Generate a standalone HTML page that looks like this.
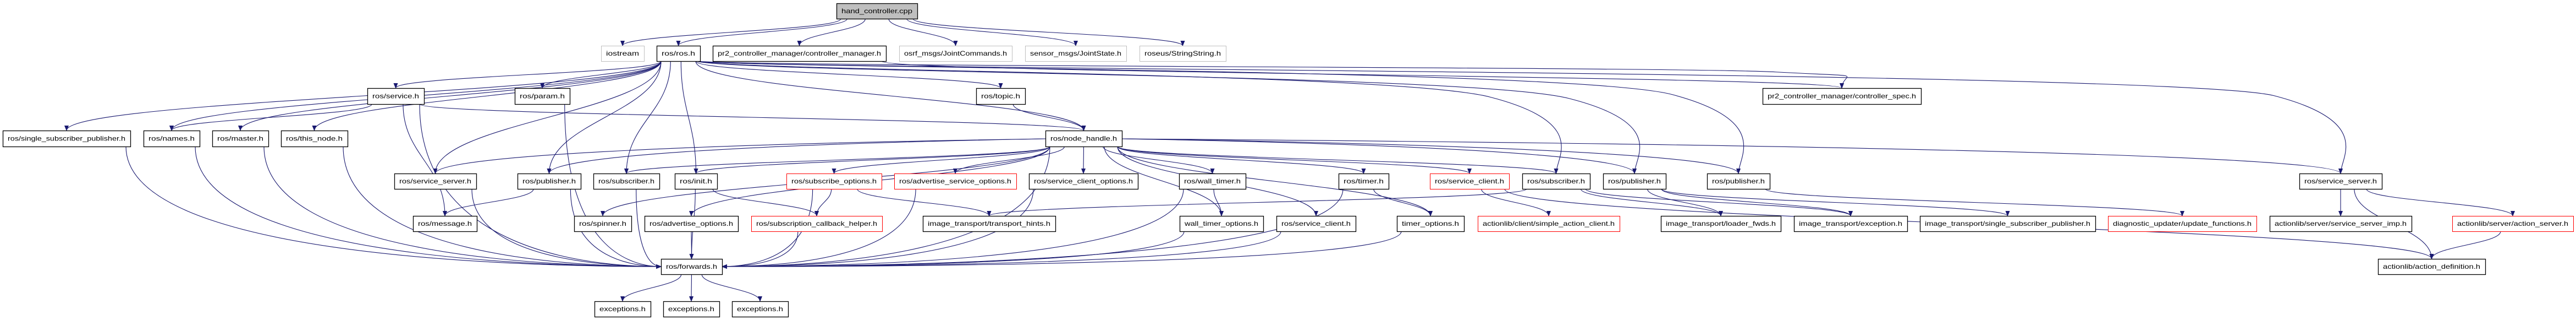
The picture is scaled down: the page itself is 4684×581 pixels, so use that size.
<!DOCTYPE html>
<html><head><meta charset="utf-8"><style>
html,body{margin:0;padding:0;background:#fff;width:4684px;height:581px;overflow:hidden}
svg{display:block}
text{font-family:"Liberation Sans",sans-serif;font-size:12px;fill:#000}
</style></head><body>
<svg id="g" width="4684" height="581" viewBox="0 0 4684 581" xmlns="http://www.w3.org/2000/svg">
<defs><marker id="a" markerWidth="10" markerHeight="8" refX="9" refY="4" orient="auto" markerUnits="userSpaceOnUse"><path d="M0,0 L10,4 L0,8 z" fill="#191970"/></marker></defs>
<g id="e" fill="none" stroke="#191970" stroke-width="1.1"></g>
<g id="n"></g>
</svg>
<script>
var R=[[6,34],[83,111],[160,189],[237,266],[315,343],[392,420],[470,498],[547,575]];
var N={
hc:[1521,1668,0,"hand_controller.cpp","h"],
ros:[1194,1273,1,"ros/ros.h"],
ioS:[1093,1171,1,"iostream","g"],
cm:[1296,1611,1,"pr2_controller_manager/controller_manager.h"],
osrf:[1635,1840,1,"osrf_msgs/JointCommands.h","g"],
sens:[1864,2048,1,"sensor_msgs/JointState.h","g"],
roseus:[2072,2229,1,"roseus/StringString.h","g"],
svc:[668,771,2,"ros/service.h"],
param:[936,1036,2,"ros/param.h"],
topic:[1775,1864,2,"ros/topic.h"],
cspec:[3205,3493,2,"pr2_controller_manager/controller_spec.h"],
ssp:[5,237,3,"ros/single_subscriber_publisher.h"],
names:[261,363,3,"ros/names.h"],
master:[386,488,3,"ros/master.h"],
thisn:[511,632,3,"ros/this_node.h"],
nh:[1901,2040,3,"ros/node_handle.h"],
ssrv:[717,866,4,"ros/service_server.h"],
pub1:[941,1056,4,"ros/publisher.h"],
sub1:[1079,1199,4,"ros/subscriber.h"],
init:[1227,1304,4,"ros/init.h"],
subopt:[1430,1603,4,"ros/subscribe_options.h","r"],
advsvc:[1626,1848,4,"ros/advertise_service_options.h","r"],
sco:[1871,2069,4,"ros/service_client_options.h"],
wt:[2144,2265,4,"ros/wall_timer.h"],
timer:[2434,2525,4,"ros/timer.h"],
sc:[2600,2744,4,"ros/service_client.h","r"],
sub2:[2768,2891,4,"ros/subscriber.h"],
pub2:[2915,3029,4,"ros/publisher.h"],
pub3:[3104,3218,4,"ros/publisher.h"],
ssrv2:[4181,4331,4,"ros/service_server.h"],
msg:[751,867,5,"ros/message.h"],
spin:[1044,1148,5,"ros/spinner.h"],
advopt:[1172,1342,5,"ros/advertise_options.h"],
sch:[1366,1604,5,"ros/subscription_callback_helper.h","r"],
th:[1678,1919,5,"image_transport/transport_hints.h"],
wto:[2145,2297,5,"wall_timer_options.h"],
scl:[2321,2465,5,"ros/service_client.h"],
to:[2540,2662,5,"timer_options.h"],
sac:[2687,2945,5,"actionlib/client/simple_action_client.h","r"],
lf:[3020,3238,5,"image_transport/loader_fwds.h"],
exc:[3262,3468,5,"image_transport/exception.h"],
issp:[3491,3810,5,"image_transport/single_subscriber_publisher.h"],
diag:[3833,4103,5,"diagnostic_updater/update_functions.h","r"],
ssi:[4127,4385,5,"actionlib/server/service_server_imp.h"],
as:[4459,4679,5,"actionlib/server/action_server.h","r"],
fwd:[1202,1313,6,"ros/forwards.h"],
ad:[4324,4519,6,"actionlib/action_definition.h"],
ex1:[1081,1183,7,"exceptions.h"],
ex2:[1206,1308,7,"exceptions.h"],
ex3:[1331,1433,7,"exceptions.h"]};
var E="hc ros,hc cm,hc osrf,hc sens,hc roseus,hc ioS,ros svc,ros param,ros ssp,ros names,ros master,ros thisn,ros ssrv,ros pub1,ros sub1,ros init,ros topic,ros nh,ros cspec,ros pub3,ros ssrv2,ros sub2,ros pub2,cm cspec,svc names,svc nh,svc msg,svc fwd,param fwd,topic nh,ssp fwd,names fwd,master fwd,thisn fwd,nh ssrv,nh pub1,nh sub1,nh init,nh spin,nh advopt,nh subopt,nh advsvc,nh sco,nh wt,nh timer,nh sc,nh sub2,nh pub2,nh pub3,nh ssrv2,nh fwd,nh wto,nh scl,nh to,ssrv fwd,pub1 msg,pub1 fwd,sub1 fwd,init fwd,init sch,advopt fwd,subopt sch,subopt th,subopt fwd,sch fwd,advsvc fwd,sco fwd,wt wto,wt fwd,wto fwd,timer to,timer fwd,to fwd,scl fwd,sc sac,sc ad,sub2 th,sub2 lf,sub2 exc,pub2 lf,pub2 exc,pub2 issp,pub3 diag,ssrv2 ssi,ssrv2 as,ssrv2 ad,as ad,fwd ex1,fwd ex2,fwd ex3".split(",");
var ns="http://www.w3.org/2000/svg",eg=document.getElementById("e"),ng=document.getElementById("n");
function mk(t,a,p){var el=document.createElementNS(ns,t);for(var k in a)el.setAttribute(k,a[k]);p.appendChild(el);return el;}
var cnt=0;
E.forEach(function(s){var p=s.split(" "),a=N[p[0]],b=N[p[1]];
var sx=(a[0]+a[1])/2,sy=R[a[2]][1],tx=(b[0]+b[1])/2,ty=R[b[2]][0],d;
if(b[2]==a[2]){sy=(R[a[2]][0]+R[a[2]][1])/2;ty=sy;sx=a[0];tx=b[1];d="M"+sx+","+sy+" L"+tx+","+ty;}
else if(p[1]=="fwd"&&(sx<1180||sx>1340)){
 var off=(tx-sx)*0.15;sx=Math.max(a[0]+8,Math.min(a[1]-8,sx+off));
 ty=484;tx=sx<1202?1202:1313;
 d="M"+sx+","+sy+" C"+sx+","+(sy+(ty-sy)*0.9)+" "+(tx+(sx-tx)*0.3)+","+ty+" "+tx+","+ty;}
else if(p[0]=="ros"&&tx>2300){
 cnt++;var ex=1265,ey=111,hy=118+cnt*3;
 d="M"+ex+","+ey+" C"+(ex+80)+","+hy+" "+(tx-300)+","+hy+" "+(tx-120)+","+(hy+(ty-hy)*0.25)+" S"+tx+","+(ty-30)+" "+tx+","+ty;}
else if(p[0]=="nh"&&Math.abs(tx-sx)>900){
 var ex=sx<tx?a[1]:a[0],ey=252;
 d="M"+ex+","+ey+" C"+(ex+(tx-ex)*0.6)+","+(ey+10)+" "+tx+","+(ty-(ty-ey)*0.5)+" "+tx+","+ty;}
else{var off=(tx-sx)*0.15;sx=Math.max(a[0]+8,Math.min(a[1]-8,sx+off));var dy=ty-sy;
d="M"+sx+","+sy+" C"+sx+","+(sy+dy*0.45)+" "+tx+","+(ty-dy*0.45)+" "+tx+","+ty;}
mk("path",{d:d,"marker-end":"url(#a)"},eg);});
for(var k in N){var n=N[k],y=R[n[2]],w=n[1]-n[0],h=y[1]-y[0];
var col=n[4]=="g"?"#bfbfbf":n[4]=="r"?"#ff0000":"#000";
mk("rect",{x:n[0]+0.5,y:y[0]+0.5,width:w,height:h,fill:n[4]=="h"?"#bfbfbf":"#fff",stroke:col,"stroke-width":n[4]=="g"||n[4]=="r"?1:1.3},ng);
var t=mk("text",{x:n[0]+w/2,y:y[0]+h/2+4,"text-anchor":"middle",textLength:Math.max(10,w-18),lengthAdjust:"spacingAndGlyphs"},ng);
t.textContent=n[3];}
</script>
</body></html>
